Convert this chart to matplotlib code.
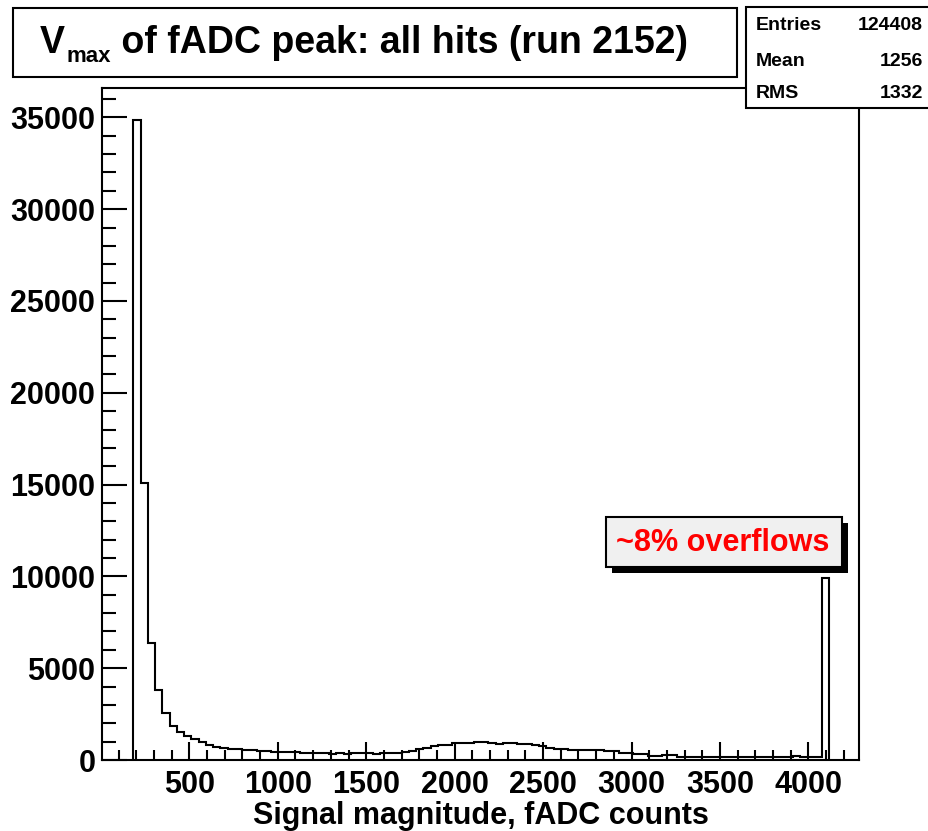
import numpy as np
import matplotlib
matplotlib.use("Agg")
import matplotlib.pyplot as plt
from matplotlib.patches import Rectangle
from matplotlib.ticker import MultipleLocator

# Histogram of fADC peak amplitudes (run 2152)
bin_width = 40.96
first_edge = 4.5 * bin_width
counts = [
    34850, 15070, 6355, 3812, 2541, 1851, 1525, 1307, 1120, 960,
    820, 720, 650, 617, 600, 540, 526, 500, 470, 454,
    440, 420, 410, 400, 405, 400, 360, 345, 400, 330,
    380, 400, 395, 310, 390, 395, 400, 450, 510, 600,
    650, 780, 800, 810, 900, 905, 910, 980, 970, 910,
    880, 944, 907, 853, 853, 800, 760, 680, 600, 620,
    560, 545, 540, 540, 530, 500, 470, 400, 380, 350,
    300, 240, 220, 290, 254, 170, 165, 160, 165, 170,
    160, 165, 160, 155, 165, 160, 170, 160, 165, 160,
    165, 218, 190, 180, 180, 9900,
]
edges = first_edge + bin_width * np.arange(len(counts) + 1)

stats_labels = ["Entries", "Mean", "RMS"]
stats_values = ["124408", "1256", "1332"]
title_main = "V"
title_sub = "max"
title_rest = " of fADC peak: all hits (run 2152)"
xlabel = "Signal magnitude, fADC counts"
note = "~8% overflows"

W, H = 929, 831
fig = plt.figure(figsize=(W / 100, H / 100), dpi=100)
fig.patch.set_facecolor("white")
FONT = "Liberation Sans"


def fx(px):
    return px / W


def fy(py):
    return 1 - py / H


ax = fig.add_axes([fx(102.3), fy(760), fx(859) - fx(102.3), fy(88) - fy(760)])
ax.stairs(counts, edges, baseline=0, color="black", lw=1.5)
ax.set_xlim(8, 4286)
ax.set_ylim(0, 36600)

for s in ax.spines.values():
    s.set_linewidth(1.5)

ax.xaxis.set_major_locator(MultipleLocator(500))
ax.xaxis.set_minor_locator(MultipleLocator(100))
ax.yaxis.set_major_locator(MultipleLocator(5000))
ax.yaxis.set_minor_locator(MultipleLocator(1000))
ax.tick_params(axis="x", which="major", direction="in", length=13, width=1.5, pad=7)
ax.tick_params(axis="x", which="minor", direction="in", length=7, width=1.5)
ax.tick_params(axis="y", which="major", direction="in", length=18, width=1.5, pad=5)
ax.tick_params(axis="y", which="minor", direction="in", length=10, width=1.5)
xt = [v for v in range(500, 4001, 500)]
ax.set_xticks(xt)
ax.set_xticklabels([str(v) for v in xt], fontfamily=FONT, fontweight="bold", fontsize=22)
yt = list(range(0, 35001, 5000))
ax.set_yticks(yt)
ax.set_yticklabels([str(v) for v in yt], fontfamily=FONT, fontweight="bold", fontsize=22)
ax.set_xlabel(xlabel, fontfamily=FONT, fontweight="bold", fontsize=22, labelpad=1)

# Title box
fig.patches.append(Rectangle((fx(13), fy(77)), fx(737) - fx(13), fy(8) - fy(77),
                             transform=fig.transFigure, facecolor="white",
                             edgecolor="black", lw=1.5, zorder=2))
renderer = fig.canvas.get_renderer()
tx = fx(40)
base = fy(53)
t1 = fig.text(tx, base, title_main, fontfamily=FONT, fontweight="bold", fontsize=27,
              va="baseline", ha="left", zorder=5)
bb = t1.get_window_extent(renderer)
t2 = fig.text(bb.x1 / W + fx(2), fy(62), title_sub, fontfamily=FONT, fontweight="bold",
              fontsize=16, va="baseline", ha="left", zorder=5)
bb2 = t2.get_window_extent(renderer)
fig.text(bb2.x1 / W, base, title_rest, fontfamily=FONT, fontweight="bold", fontsize=27,
         va="baseline", ha="left", zorder=5)

# Statistics box
fig.patches.append(Rectangle((fx(746), fy(108.3)), fx(940) - fx(746), fy(7.3) - fy(108.3),
                             transform=fig.transFigure, facecolor="white",
                             edgecolor="black", lw=1.5, zorder=2))
rows_y = [25, 61, 93]
for lab, val, yy in zip(stats_labels, stats_values, rows_y):
    fig.text(fx(756), fy(yy), lab, fontfamily=FONT, fontweight="bold", fontsize=14,
             va="center", ha="left", zorder=5)
    fig.text(fx(923), fy(yy), val, fontfamily=FONT, fontweight="bold", fontsize=14,
             va="center", ha="right", zorder=5)

# Overflow annotation with drop shadow
fig.patches.append(Rectangle((fx(612), fy(573)), fx(848) - fx(612), fy(523) - fy(573),
                             transform=fig.transFigure, facecolor="black",
                             edgecolor="black", lw=0, zorder=2))
fig.patches.append(Rectangle((fx(606), fy(567)), fx(842) - fx(606), fy(517) - fy(567),
                             transform=fig.transFigure, facecolor="#f0f0f0",
                             edgecolor="black", lw=1.5, zorder=3))
fig.text(fx(723), fy(543), note, fontfamily=FONT, fontweight="bold", fontsize=22,
         color="#ff0000", va="center", ha="center", zorder=5)

fig.savefig("out.png", dpi=100)
